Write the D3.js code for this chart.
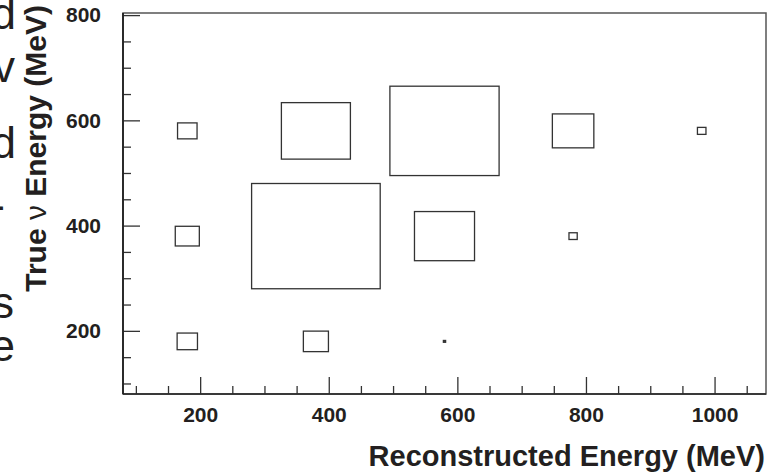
<!DOCTYPE html>
<html>
<head>
<meta charset="utf-8">
<script src="https://cdn.jsdelivr.net/npm/d3@7"></script>
<style>
  body { margin: 0; background: #fff; }
  svg text { font-family: "Liberation Sans", Arial, Helvetica, sans-serif; fill: #231f20; }
</style>
</head>
<body>
<div class="chart"></div>
<script>
"use strict";

  // contenu des cellules (centre en energie reconstruite, centre en energie vraie, contenu relatif)
  var recoEnergy = [180, 380, 580, 780, 980, 180, 380, 580, 780, 180, 380, 580];
  var trueEnergy = [580, 580, 580, 580, 580, 380, 380, 380, 380, 180, 180, 180];
  var contents   = [2.3, 28.8, 72.1, 10.4, 0.44, 3.5, 100, 21.8, 0.41, 2.5, 3.8, 0.03];
  var binWidth = 200; // largeur d'une cellule (MeV)

  var xMajor = [200, 400, 600, 800, 1000];
  var xMinor = [100, 150, 250, 300, 350, 450, 500, 550, 650, 700, 750, 850, 900, 950, 1050];
  var yMajor = [200, 400, 600, 800];
  var yMinor = [100, 150, 250, 300, 350, 450, 500, 550, 650, 700, 750];

  // bouts de lignes d'un texte voisin, coupes par le bord gauche
  var leftFragments = ["d", "v", "d", "-", "s", "e"];

  var larg = 777, haut = 475;
  var gauche = 123, droite = 766, bas = 394, sommet = 13;

  var svg = d3.select(".chart")
    .append("svg")
    .attr("width", larg)
    .attr("height", haut);

  var x = d3.scaleLinear().domain([80, 1080]).range([gauche, droite]);
  var y = d3.scaleLinear().domain([80, 804]).range([bas, sommet]);
  var taille = d3.scaleSqrt().domain([0, d3.max(contents)]).range([0, 1]);

  var cellW = x(binWidth) - x(0);
  var cellH = y(0) - y(binWidth);

  // texte voisin coupe
  svg.append("g")
    .selectAll("text")
    .data(leftFragments)
    .enter()
    .append("text")
      .attr("x", function(d, i){ return [16, 15, 16, 5, 14, 15][i]; })
      .attr("y", function(d, i){ return [29, 82, 158, 220, 318, 361][i]; })
      .attr("text-anchor", "end")
      .attr("font-size", "44px")
      .text(function(d){ return d; });

  // boites
  svg.append("g")
    .selectAll("rect")
    .data(contents)
    .enter()
    .append("rect")
      .attr("x", function(d, i){ return x(recoEnergy[i]) - taille(d) * cellW / 2; })
      .attr("y", function(d, i){ return y(trueEnergy[i]) - taille(d) * cellH / 2; })
      .attr("width", function(d){ return Math.max(taille(d) * cellW, 1); })
      .attr("height", function(d){ return Math.max(taille(d) * cellH, 1); })
      .attr("fill", "none")
      .attr("stroke", "#333")
      .attr("stroke-width", 1.3);

  // axe x
  svg.append("g")
    .attr("transform", "translate(0," + bas + ")")
    .call(d3.axisBottom(x).tickValues(xMinor).tickSize(-8).tickFormat(""))
    .call(function(g){ g.select(".domain").remove(); });

  svg.append("g")
    .attr("class", "xmaj")
    .attr("transform", "translate(0," + bas + ")")
    .call(d3.axisBottom(x).tickValues(xMajor).tickSize(-17).tickPadding(13).tickFormat(d3.format("d")))
    .call(function(g){ g.select(".domain").remove(); });

  // axe y
  svg.append("g")
    .attr("transform", "translate(" + gauche + ",0)")
    .call(d3.axisLeft(y).tickValues(yMinor).tickSize(-8).tickFormat(""))
    .call(function(g){ g.select(".domain").remove(); });

  svg.append("g")
    .attr("class", "ymaj")
    .attr("transform", "translate(" + gauche + ",0)")
    .call(d3.axisLeft(y).tickValues(yMajor).tickSize(-17).tickPadding(22).tickFormat(d3.format("d")))
    .call(function(g){ g.select(".domain").remove(); });

  svg.selectAll(".tick line").attr("stroke", "#333").attr("stroke-width", 1.3);
  svg.selectAll(".xmaj text, .ymaj text")
    .attr("font-size", "21px")
    .attr("font-weight", "bold")
    .attr("font-family", "'Liberation Sans', Arial, sans-serif")
    .attr("fill", "#231f20");

  // cadre
  svg.append("rect")
    .attr("x", gauche)
    .attr("y", sommet)
    .attr("width", droite - gauche)
    .attr("height", bas - sommet)
    .attr("fill", "none")
    .attr("stroke", "#555")
    .attr("stroke-width", 1.5);
  svg.append("line")
    .attr("x1", gauche).attr("x2", gauche)
    .attr("y1", sommet).attr("y2", bas)
    .attr("stroke", "#222").attr("stroke-width", 1.8);
  svg.append("line")
    .attr("x1", gauche).attr("x2", droite)
    .attr("y1", bas).attr("y2", bas)
    .attr("stroke", "#222").attr("stroke-width", 1.5);

  // titres
  svg.append("text")
    .attr("x", 765)
    .attr("y", 466)
    .attr("text-anchor", "end")
    .attr("font-size", "29px")
    .attr("font-weight", "bold")
    .text("Reconstructed Energy (MeV)");

  var titreY = svg.append("text")
    .attr("transform", "translate(46,5) rotate(-90)")
    .attr("text-anchor", "end")
    .attr("font-size", "30px")
    .attr("font-weight", "bold");
  titreY.append("tspan").text("True ");
  titreY.append("tspan").attr("font-weight", "normal").text("ν");
  titreY.append("tspan").text(" Energy (MeV)");
</script>
</body>
</html>
